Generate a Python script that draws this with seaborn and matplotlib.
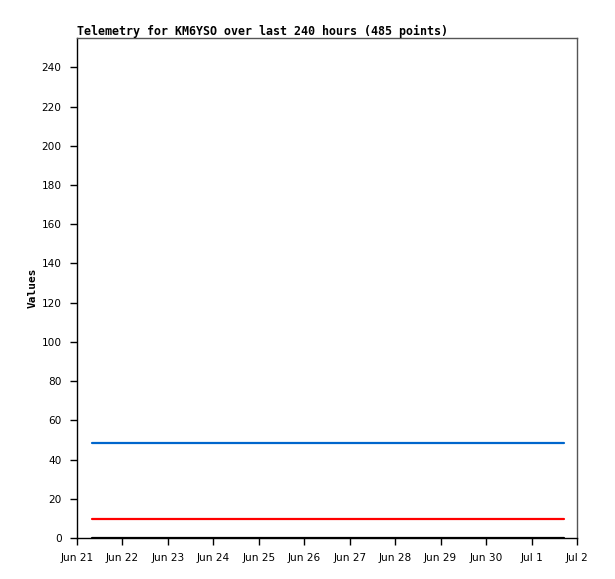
import matplotlib
matplotlib.use("Agg")
import matplotlib.pyplot as plt
import matplotlib.dates as mdates
import pandas as pd
import numpy as np
import seaborn as sns

# telemetry: 485 samples over the last 240 hours, each channel flat
n_points = 485
start_time = "2024-06-21 08:00"
end_time = "2024-07-01 17:00"
channel_names = ["A1", "A2", "A3"]
channel_values = [48.3, 9.9, 0.2]
channel_colors = ["#0066cc", "#ff0000", "#000000"]
y_ticks = [0, 20, 40, 60, 80, 100, 120, 140, 160, 180, 200, 220, 240]
x_ticks = pd.date_range("2024-06-21", "2024-07-02", freq="D")

times = pd.date_range(start_time, end_time, periods=n_points)
df = pd.concat(
    [pd.DataFrame({"time": times, "value": v, "channel": c})
     for c, v in zip(channel_names, channel_values)],
    ignore_index=True,
)

sns.set_style("white")
plt.rcParams["font.family"] = ["DejaVu Sans Mono"]
plt.rcParams["text.color"] = "black"
plt.rcParams["axes.labelcolor"] = "black"
plt.rcParams["xtick.color"] = "black"
plt.rcParams["ytick.color"] = "black"

fig = plt.figure(figsize=(6.15, 5.79), dpi=100)
ax = fig.add_axes([77 / 615, 41 / 579, 500 / 615, 500 / 579])

sns.lineplot(data=df, x="time", y="value", hue="channel",
             palette=dict(zip(channel_names, channel_colors)),
             linewidth=1.6, legend=False, ax=ax)

ax.set_xlim(x_ticks[0], x_ticks[-1])
ax.set_ylim(0, 255)
ax.set_yticks(y_ticks)
ax.set_xticks(x_ticks)
ax.xaxis.set_major_formatter(mdates.DateFormatter("%b %-d"))
ax.tick_params(axis="both", direction="out", length=5, width=1,
               color="black", labelsize=7.6, bottom=True, left=True)
ax.tick_params(axis="x", pad=6)
ax.tick_params(axis="y", pad=6)
for lbl in ax.get_xticklabels() + ax.get_yticklabels():
    lbl.set_family("DejaVu Sans")

for side in ["left", "bottom"]:
    ax.spines[side].set_color("black")
    ax.spines[side].set_linewidth(1)
for side in ["top", "right"]:
    ax.spines[side].set_color("#555555")
    ax.spines[side].set_linewidth(1)

ax.set_xlabel("")
ax.set_ylabel("Values", fontsize=8, fontweight="bold", labelpad=3)
ax.set_title("Telemetry for KM6YSO over last 240 hours (485 points)",
             loc="left", fontsize=8.4, fontweight="bold", pad=2)

fig.savefig("out.png", dpi=100)
